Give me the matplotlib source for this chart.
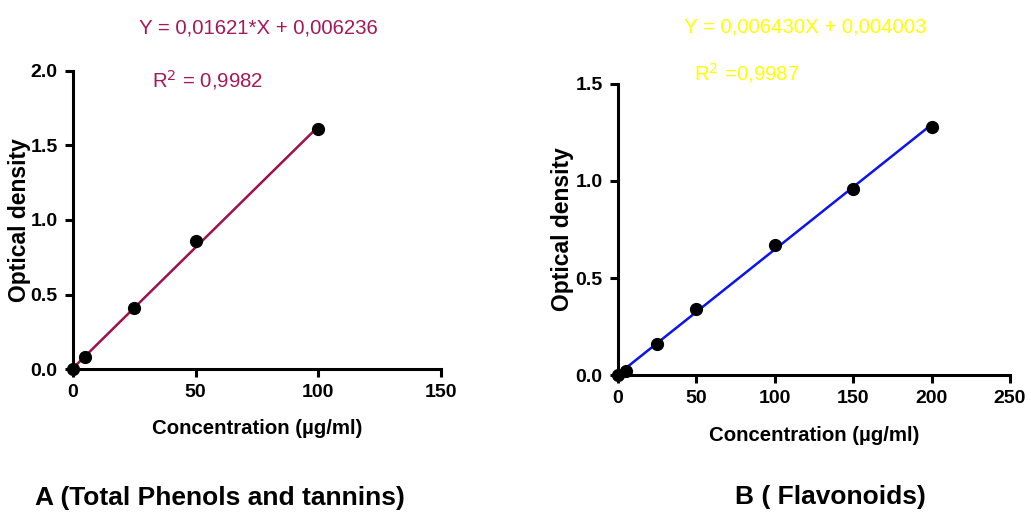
import matplotlib.pyplot as plt
import numpy as np

plt.rcParams['font.family'] = ['Liberation Sans', 'DejaVu Sans']

# standard curve A (total phenols and tannins)
conc_a = [0, 5, 25, 50, 100]
od_a = [0.0, 0.08, 0.41, 0.86, 1.61]
slope_a, icpt_a = 0.01621, 0.006236

# standard curve B (flavonoids)
conc_b = [0, 5, 25, 50, 100, 150, 200]
od_b = [0.0, 0.02, 0.16, 0.34, 0.67, 0.96, 1.28]
slope_b, icpt_b = 0.006430, 0.004003

fig = plt.figure(figsize=(10.28, 5.14), dpi=100)
ax1 = fig.add_axes([0.071, 0.282, 0.358, 0.580])
ax2 = fig.add_axes([0.601, 0.270, 0.3815, 0.567])


def style(ax, xmax, xticks, ymax, yticks, ylab_x):
    ax.set_xlim(0, xmax)
    ax.set_ylim(0, ymax)
    ax.set_xticks(xticks)
    ax.set_yticks(yticks)
    ax.set_yticklabels([f'{v:.1f}' for v in yticks])
    for s in ['top', 'right']:
        ax.spines[s].set_visible(False)
    for s in ['left', 'bottom']:
        ax.spines[s].set_linewidth(2.2)
    ax.tick_params(width=2.2, length=6, labelsize=14, pad=5)
    for lab in ax.get_xticklabels() + ax.get_yticklabels():
        lab.set_fontweight('bold')
    ax.set_ylabel('Optical density', fontsize=16.5, fontweight='bold', va='center')
    ax.yaxis.set_label_coords(ylab_x, 0.5)
    ax.set_xlabel('Concentration (µg/ml)', fontsize=14.7, fontweight='bold', labelpad=13)


# panel A
xa = np.array([0, max(conc_a)])
ax1.plot(xa, slope_a * xa + icpt_a, color='#A0104C', lw=1.8, zorder=2)
ax1.plot(conc_a, od_a, 'o', color='black', ms=8.5, clip_on=False, zorder=3)
style(ax1, 150, [0, 50, 100, 150], 2.0, [0.0, 0.5, 1.0, 1.5, 2.0], -0.144)

# panel B
xb = np.array([0, max(conc_b)])
ax2.plot(xb, slope_b * xb + icpt_b, color='#0A14F0', lw=1.8, zorder=2)
ax2.plot(conc_b, od_b, 'o', color='black', ms=8.5, clip_on=False, zorder=3)
style(ax2, 250, [0, 50, 100, 150, 200, 250], 1.5, [0.0, 0.5, 1.0, 1.5], -0.140)

# equations
fig.text(258/1028, 1-28/514, 'Y = 0,01621*X + 0,006236', color='#A3195B',
         fontsize=14.7, ha='center', va='center')
fig.text(207/1028, 1-80/514, 'R$^2$ = 0,9982', color='#A3195B',
         fontsize=14.7, ha='center', va='center')
fig.text(805/1028, 1-27/514, 'Y = 0,006430X + 0,004003', color='#FFFF00',
         fontsize=14.7, ha='center', va='center')
fig.text(747/1028, 1-73/514, 'R$^2$ =0,9987', color='#FFFF00',
         fontsize=14.7, ha='center', va='center')

# captions
fig.text(220/1028, 1-498/514, 'A (Total Phenols and tannins)', fontsize=19,
         fontweight='bold', ha='center', va='center')
fig.text(830/1028, 1-497/514, 'B ( Flavonoids)', fontsize=19,
         fontweight='bold', ha='center', va='center')

fig.savefig('out.png', dpi=100)
